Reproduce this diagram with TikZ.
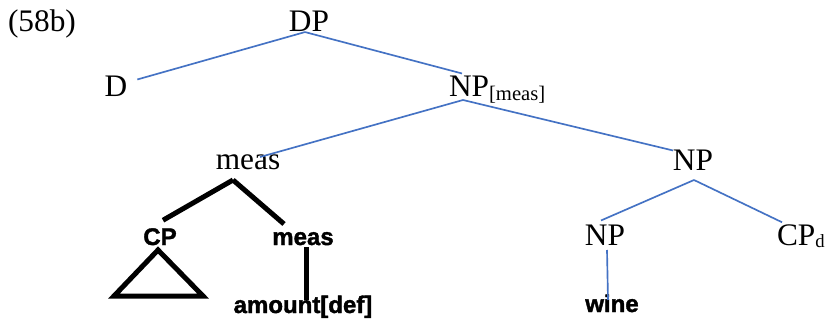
\documentclass[tikz,border=0pt]{standalone}
\usepackage{fontspec}
\setmainfont{Liberation Serif}
\newfontfamily\boldsans[FakeBold=1.6]{Liberation Sans Bold}
\usetikzlibrary{calc}
\definecolor{linkblue}{RGB}{68,114,196}
\begin{document}
\begin{tikzpicture}[x=0.75pt,y=-0.75pt,
  every node/.style={inner sep=0pt,outer sep=0pt},
  ser/.style={font=\fontsize{23.5}{28}\selectfont,anchor=base},
  bsans/.style={font=\boldsans\fontsize{18}{22}\selectfont,anchor=base},
  blueline/.style={draw=linkblue,line width=1.25pt},
  thickline/.style={draw=black,line width=3.75pt}]
\fill[white] (0,0) rectangle (827,320);
% serif nodes
\node[ser,anchor=base west] (lab) at (8,32) {(58b)};
\node[ser] (dp) at (309,32) {DP};
\node[ser] (d) at (116,97) {D};
\node[ser,anchor=base west] (npm) at (449,97) {NP\raisebox{-3pt}{\fontsize{15.5}{18}\selectfont[meas]}};
\node[ser] (meas) at (248,170) {meas};
\node[ser] (np) at (693,171) {NP};
\node[ser] (np2) at (605,245) {NP};
\node[ser,anchor=base west] (cpd) at (777,245) {CP\raisebox{-2pt}{\fontsize{14}{16}\selectfont d}};
% bold sans nodes
\node[bsans] (cp) at (160,245) {CP};
\node[bsans] (measb) at (303,245) {meas};
\node[bsans] (amount) at (303,313) {amount[def]};
\node[bsans] (wine) at (612,312) {wine};
% blue connectors
\draw[blueline] ($(dp.south)+(-4,0)$) -- ($(d.north east)+(10,3)$);
\draw[blueline] ($(dp.south)+(-4,0)$) -- ($(npm.north west)+(13,-3)$);
\draw[blueline] ($(npm.base west)+(14,3)$) -- ($(meas.base)+(12,-13)$);
\draw[blueline] ($(npm.base west)+(14,3)$) -- (np.north west);
\draw[blueline] ($(np.base)+(1,9)$) -- ($(np2.north)+(-4,-4)$);
\draw[blueline] ($(np.base)+(1,9)$) -- ($(cpd.north west)+(5,-2)$);
\draw[blueline] ($(np2.base)+(2,5)$) -- ($(wine.base)+(-4,-12)$);
% thick black connectors
\draw[thickline] ($(meas.base)+(-15,10)$) -- ($(cp.north)+(3,-8)$);
\draw[thickline] ($(meas.base)+(-15,10)$) -- ($(measb.base)+(-19,-21)$);
\draw[thickline] ($(measb.base)+(3,2)$) -- ($(amount.base)+(3,-13)$);
\draw[thickline,line join=miter] ($(cp.base)+(-2,5)$) -- ++(-44,46) -- ++(89,0) -- cycle;
\pgfresetboundingbox
\useasboundingbox (0,0) rectangle (827,320);
\end{tikzpicture}
\end{document}
